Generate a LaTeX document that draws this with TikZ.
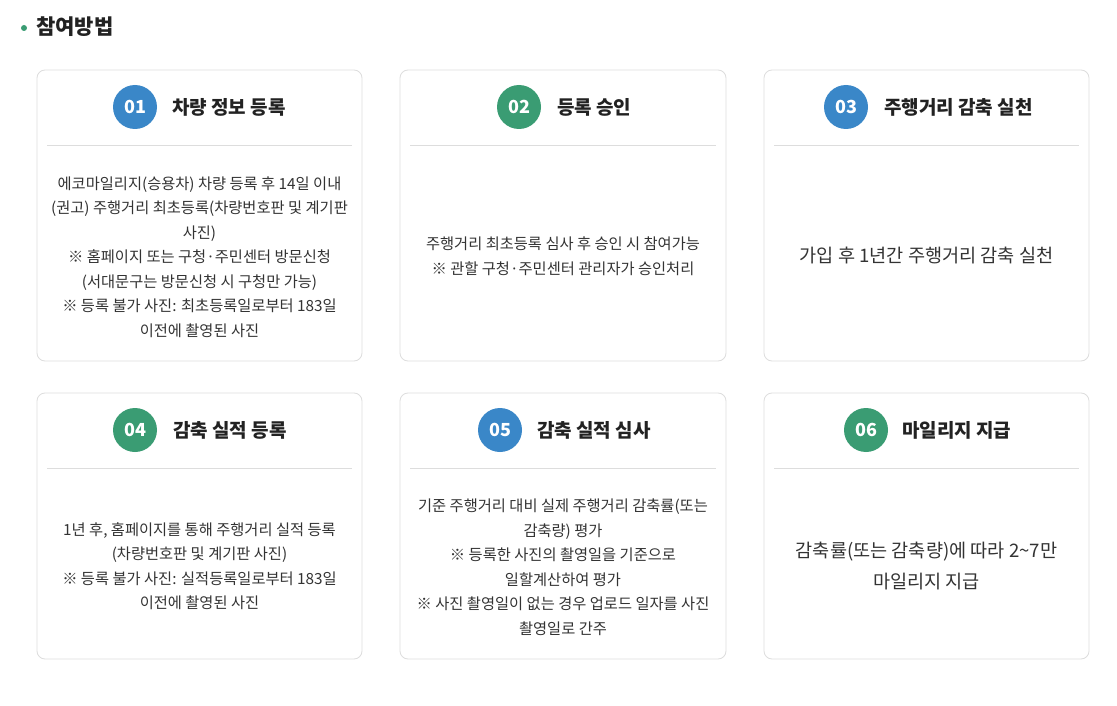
\documentclass[tikz,border=0pt]{standalone}
\usepackage{fontspec}
\setmainfont{Noto Sans CJK KR}
\begin{document}
\begin{tikzpicture}[x=1pt,y=-1pt,
  card/.style={draw=cardline,line width=0.8pt,rounded corners=8pt},
  sep/.style={draw=sepline,line width=0.8pt},
  numblue/.style={circle,fill=stepblue,minimum size=44pt,inner sep=0pt,text=white,font=\fontsize{18}{20}\selectfont\bfseries},
  numgreen/.style={numblue,fill=stepgreen},
  ttl/.style={anchor=west,inner sep=0pt,text=titletext,font=\fontsize{19}{22}\selectfont\bfseries},
  body/.style={align=center,inner sep=0pt,text=bodytext,font=\fontsize{15.3}{24.5}\selectfont},
  bigbody/.style={align=center,inner sep=0pt,text=bodytext,font=\fontsize{18.6}{31}\selectfont}]
\definecolor{cardline}{HTML}{DDDDDD}
\definecolor{sepline}{HTML}{DDDDDD}
\definecolor{stepblue}{HTML}{3A87C8}
\definecolor{stepgreen}{HTML}{3A9C73}
\definecolor{titletext}{HTML}{222222}
\definecolor{bodytext}{HTML}{333333}
\useasboundingbox[fill=white] (0,0) rectangle (1117,706);
% heading
\fill[stepgreen] (24,28) circle (3pt);
\node[anchor=west,inner sep=0pt,text=titletext,font=\fontsize{21}{24}\selectfont\bfseries] (head) at (36,27) {참여방법};
% cards
\draw[card] (37,70) rectangle (362,361);
\draw[card] (400,70) rectangle (726,361);
\draw[card] (764,70) rectangle (1089,361);
\draw[card] (37,393) rectangle (362,659);
\draw[card] (400,393) rectangle (726,659);
\draw[card] (764,393) rectangle (1089,659);
% separators
\draw[sep] (47,145) -- (352,145);
\draw[sep] (410,145) -- (716,145);
\draw[sep] (774,145) -- (1079,145);
\draw[sep] (47,468) -- (352,468);
\draw[sep] (410,468) -- (716,468);
\draw[sep] (774,468) -- (1079,468);
% card 1
\node[numblue] (n1) at (135,107) {01};
\node[ttl] (t1) at (172,107) {차량 정보 등록};
\node[body] (b1) at (199.5,257) {에코마일리지(승용차) 차량 등록 후 14일 이내\\(권고) 주행거리 최초등록(차량번호판 및 계기판\\사진)\\※ 홈페이지 또는 구청·주민센터 방문신청\\(서대문구는 방문신청 시 구청만 가능)\\※ 등록 불가 사진: 최초등록일로부터 183일\\이전에 촬영된 사진};
% card 2
\node[numgreen] (n2) at (519,107) {02};
\node[ttl] (t2) at (557,107) {등록 승인};
\node[body] (b2) at (563,256) {주행거리 최초등록 심사 후 승인 시 참여가능\\※ 관할 구청·주민센터 관리자가 승인처리};
% card 3
\node[numblue] (n3) at (846,107) {03};
\node[ttl] (t3) at (884,107) {주행거리 감축 실천};
\node[bigbody] (b3) at (926.5,255) {가입 후 1년간 주행거리 감축 실천};
% card 4
\node[numgreen] (n4) at (135,430) {04};
\node[ttl] (t4) at (173,430) {감축 실적 등록};
\node[body] (b4) at (199.5,566) {1년 후, 홈페이지를 통해 주행거리 실적 등록\\(차량번호판 및 계기판 사진)\\※ 등록 불가 사진: 실적등록일로부터 183일\\이전에 촬영된 사진};
% card 5
\node[numblue] (n5) at (500,430) {05};
\node[ttl] (t5) at (537,430) {감축 실적 심사};
\node[body] (b5) at (563,567) {기준 주행거리 대비 실제 주행거리 감축률(또는\\감축량) 평가\\※ 등록한 사진의 촬영일을 기준으로\\일할계산하여 평가\\※ 사진 촬영일이 없는 경우 업로드 일자를 사진\\촬영일로 간주};
% card 6
\node[numgreen] (n6) at (866,430) {06};
\node[ttl] (t6) at (902,430) {마일리지 지급};
\node[bigbody] (b6) at (926.5,566) {감축률(또는 감축량)에 따라 2\textasciitilde7만\\마일리지 지급};
\end{tikzpicture}
\end{document}
